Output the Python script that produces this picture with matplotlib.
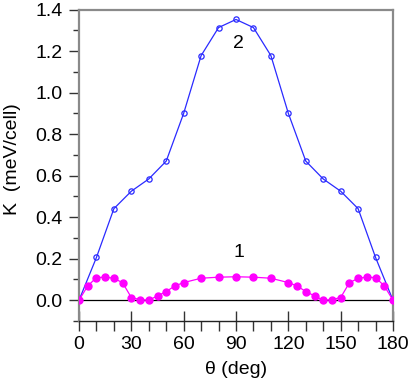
import matplotlib
matplotlib.use("Agg")
import matplotlib.pyplot as plt
from matplotlib.ticker import MultipleLocator

plt.rcParams['font.family'] = ['Liberation Sans', 'DejaVu Sans']

# Curve 2 (blue, open circles)
theta2 = [0, 10, 20, 30, 40, 50, 60, 70, 80, 90, 100, 110, 120, 130, 140, 150, 160, 170, 180]
k2 = [0.0, 0.206, 0.441, 0.525, 0.584, 0.670, 0.900, 1.178, 1.313, 1.352,
      1.313, 1.178, 0.900, 0.670, 0.584, 0.525, 0.441, 0.206, 0.0]

# Curve 1 (magenta, filled circles)
theta1 = [0, 5, 10, 15, 20, 25, 30, 35, 40, 45, 50, 55, 60, 70, 80, 90, 100, 110, 120,
          125, 130, 135, 140, 145, 150, 155, 160, 165, 170, 175, 180]
k1 = [0.0, 0.069, 0.109, 0.111, 0.106, 0.084, 0.013, 0.003, 0.0, 0.021, 0.042, 0.069, 0.085,
      0.106, 0.111, 0.113, 0.111, 0.106, 0.085, 0.069, 0.042, 0.021, 0.0, 0.003, 0.013,
      0.084, 0.106, 0.111, 0.109, 0.069, 0.0]

xticks = [0, 30, 60, 90, 120, 150, 180]
yticks = [0.0, 0.2, 0.4, 0.6, 0.8, 1.0, 1.2, 1.4]

fig = plt.figure(figsize=(4.11, 3.82), dpi=100)
ax = fig.add_axes([79/411, 1 - 321/382, (393-79)/411, (321-9.5)/382])

ax.axhline(0, color='black', lw=0.9, zorder=1)
ax.plot(theta2, k2, color='#2a2aff', lw=0.9, marker='o', ms=3.8, mfc='none',
        mec='#2a2aff', mew=0.9, zorder=3)
ax.plot(theta1, k1, color='#ff00ff', lw=0.9, marker='o', ms=5, mfc='#ff00ff',
        mec='#ff00ff', zorder=3)

ax.text(91.5, 1.238, '2', fontsize=14, ha='center', va='center')
ax.text(91.5, 0.23, '1', fontsize=14, ha='center', va='center')

ax.set_xlim(0, 180)
ax.set_ylim(-0.1, 1.4)
ax.set_xticks(xticks)
ax.set_xticklabels([str(v) for v in xticks])
ax.set_yticks(yticks)
ax.set_yticklabels([f'{v:.1f}' for v in yticks])
ax.xaxis.set_minor_locator(MultipleLocator(10))
ax.yaxis.set_minor_locator(MultipleLocator(0.1))

spine_col = '#8a8a8a'
tick_col = '#333333'
for name in ['left', 'top', 'right']:
    ax.spines[name].set_color(spine_col)
    ax.spines[name].set_linewidth(1.6)
ax.spines['bottom'].set_color('#222222')
ax.spines['bottom'].set_linewidth(1.0)

ax.tick_params(axis='x', which='major', direction='inout', length=14, width=1, color=tick_col,
               labelsize=14, pad=4)
ax.tick_params(axis='x', which='minor', direction='out', length=7, width=1, color=tick_col)
ax.tick_params(axis='y', which='major', direction='out', length=7, width=1, color=tick_col,
               labelsize=14, pad=5)
ax.tick_params(axis='y', which='minor', direction='out', length=4, width=1, color=tick_col)

ax.set_xlabel('θ (deg)', fontsize=14, va='center')
ax.xaxis.set_label_coords(0.5, (321 - 370) / 311.5)
ax.set_ylabel('K  (meV/cell)', fontsize=14, va='center')
ax.yaxis.set_label_coords((13 - 79) / 314, (321 - 159) / 311.5)

fig.savefig('out.png', dpi=100)
